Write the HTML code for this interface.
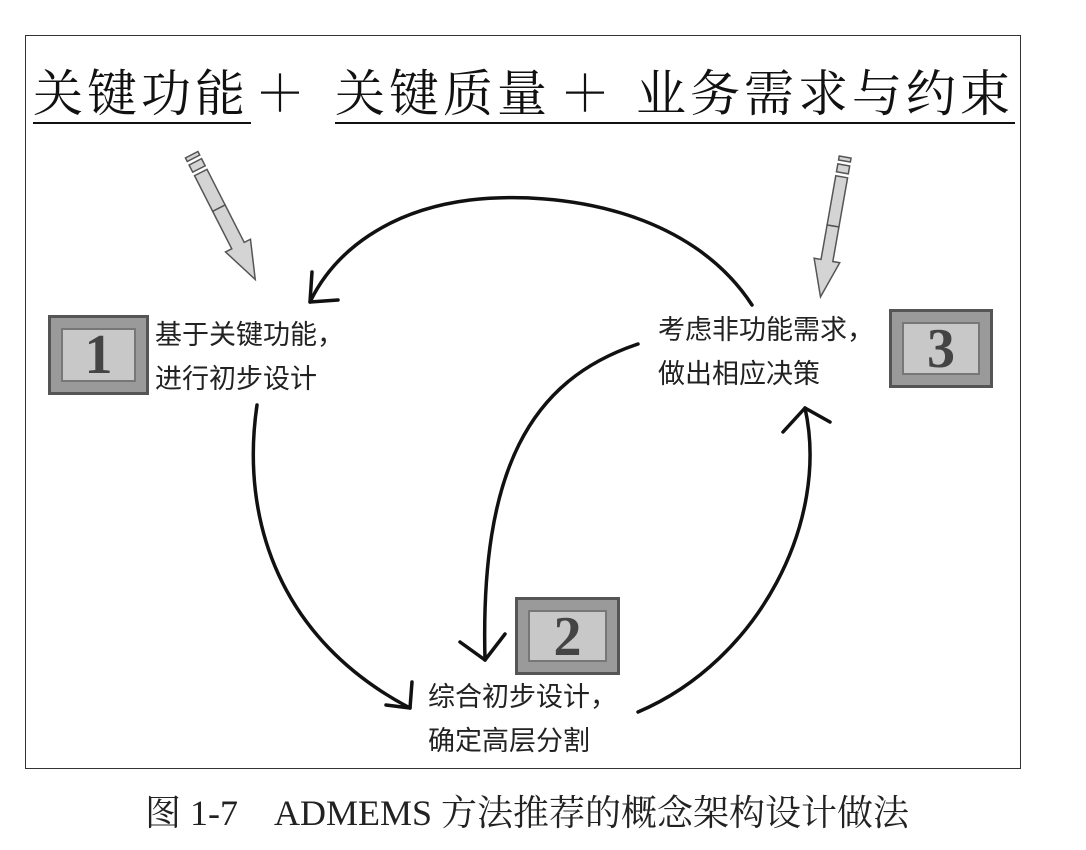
<!DOCTYPE html>
<html><head><meta charset="utf-8"><style>
body{margin:0;width:1086px;height:850px;background:#fff;position:relative;overflow:hidden;font-family:"Liberation Sans","Noto Sans CJK SC",sans-serif}
.frame{position:absolute;left:25px;top:35px;width:996px;height:734px;border:1.5px solid #333;box-sizing:border-box}
.t{position:absolute;top:66px;font-family:"Liberation Serif","Noto Serif CJK SC",serif;font-size:50px;line-height:56px;color:#111;white-space:nowrap}
.u{position:absolute;height:2px;background:#111;top:122px}
.lbl{position:absolute;font-size:27px;line-height:44px;color:#222;white-space:nowrap}
.ic{position:absolute;background:#9a9a9a;border:3px solid #555;box-sizing:border-box}
.ic div{position:absolute;left:10px;top:10px;right:10px;bottom:10px;background:#c8c8c8;border:2px solid #777}
.ic span{position:absolute;left:0;right:0;top:0;bottom:0;text-align:center;font-family:"Liberation Serif",serif;font-weight:bold;font-size:56px;line-height:74px;color:#444}
.cap{position:absolute;top:785px;left:0;width:1054px;text-align:center;font-family:"Liberation Serif","Noto Serif CJK SC",serif;font-size:36px;color:#222}
</style></head><body>
<div class="frame"></div>
<div class="t" style="left:33px;letter-spacing:4px">关键功能</div>
<div class="t" style="left:255px">＋</div>
<div class="t" style="left:335px;letter-spacing:4px">关键质量</div>
<div class="t" style="left:560px">＋</div>
<div class="t" style="left:636px;letter-spacing:4px">业务需求与约束</div>
<div class="u" style="left:33px;width:218px"></div>
<div class="u" style="left:335px;width:680px"></div>

<svg width="1086" height="850" style="position:absolute;left:0;top:0">
<g fill="#d4d4d4" stroke="#555" stroke-width="1.5">
<g transform="translate(228,226) rotate(-27)">
<rect x="-7" y="-60" width="14" height="40"/><rect x="-7" y="-72" width="14" height="8"/><rect x="-7" y="-80" width="14" height="4"/>
<polygon points="-7,-20 -7,22 -14,22 0,60 14,22 7,22 7,-20"/></g>
<g transform="translate(833,226) rotate(10)">
<rect x="-6" y="-50" width="12" height="50"/><rect x="-6" y="-62" width="12" height="8"/><rect x="-6" y="-70" width="12" height="4"/>
<polygon points="-6,0 -6,35 -13,35 0,72 13,35 6,35 6,0"/></g>
</g>
<g fill="none" stroke="#111" stroke-width="3.5" stroke-linecap="round">
<path d="M752,305 C690,210 560,190 470,200 C390,210 335,250 310,302"/>
<path d="M310,302 L312,272 M310,302 L338,300"/>
<path d="M257,405 C240,520 280,640 410,708"/>
<path d="M410,708 L412,682 M410,708 L386,705"/>
<path d="M638,344 C530,380 480,470 485,660"/>
<path d="M485,660 L460,642 M485,660 L505,634"/>
<path d="M638,712 C760,660 830,520 805,408"/>
<path d="M805,408 L783,432 M805,408 L830,422"/>
</g>
</svg>

<div class="ic" style="left:48px;top:315px;width:101px;height:80px"><div></div><span>1</span></div>
<div class="ic" style="left:889px;top:309px;width:104px;height:79px"><div></div><span>3</span></div>
<div class="ic" style="left:515px;top:597px;width:105px;height:78px"><div></div><span>2</span></div>

<div class="lbl" style="left:155px;top:313px">基于关键功能，<br>进行初步设计</div>
<div class="lbl" style="left:658px;top:308px">考虑非功能需求，<br>做出相应决策</div>
<div class="lbl" style="left:428px;top:675px">综合初步设计，<br>确定高层分割</div>

<div class="cap">图 1-7　ADMEMS 方法推荐的概念架构设计做法</div>
</body></html>
